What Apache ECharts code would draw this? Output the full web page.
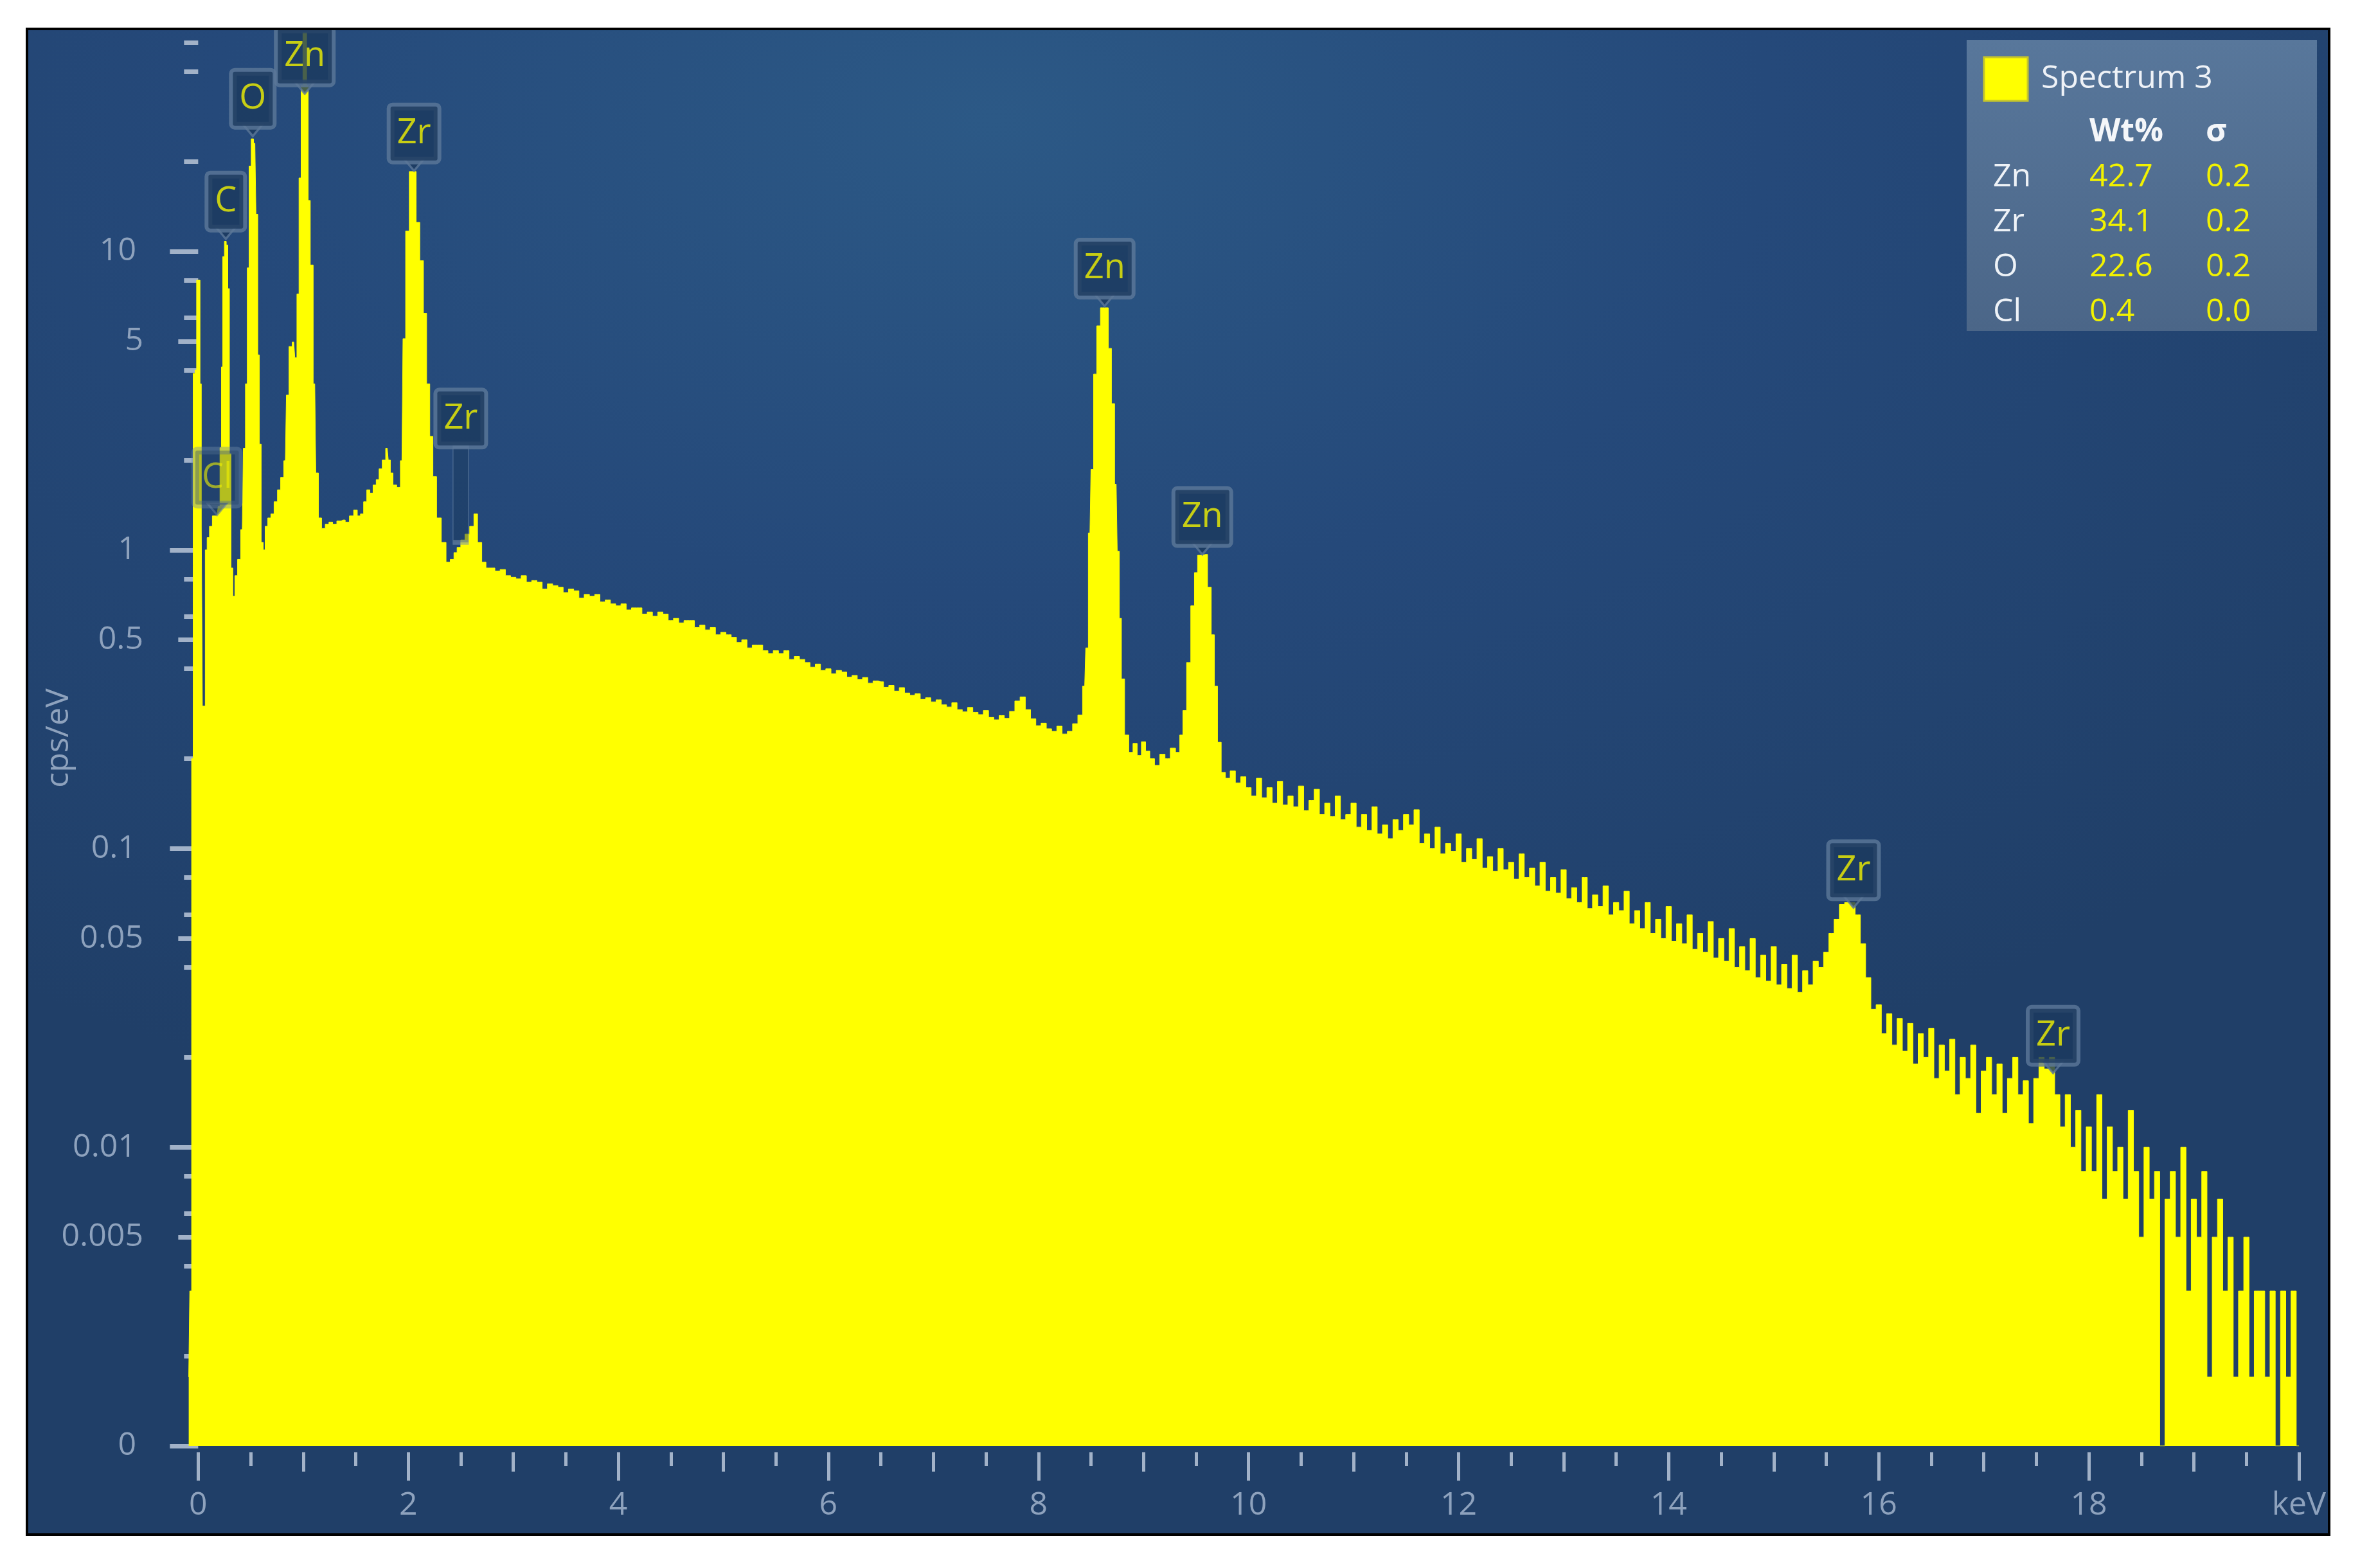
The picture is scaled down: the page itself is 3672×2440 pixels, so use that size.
<!DOCTYPE html>
<html>
<head>
<meta charset="utf-8">
<script src="https://cdn.jsdelivr.net/npm/echarts@6/dist/echarts.min.js"></script>
<style>
  html, body { margin: 0; padding: 0; background: #fff; }
  #chart {
    position: absolute; left: 40px; top: 43px;
    width: 3578px; height: 2339px;
    border: 4px solid #000;
    background: radial-gradient(ellipse 75% 70% at 42% 6%, #2c5986 0%, #25497a 45%, #203f68 100%);
  }
</style>
</head>
<body>
<div id="chart"></div>
<script>
// spectrum, [keV, cps/eV]; the "0" line of the log axis sits at 0.001
var lowBand = [
  [-0.09, 0.0017], [-0.07, 0.0033], [-0.055, 0.2], [-0.04, 3.9], [-0.02, 4.0], [-0.01, 8.0], [0.01, 8.0],
  [0.025, 3.6], [0.035, 1.2], [0.045, 0.3], [0.06, 0.3], [0.075, 1.0], [0.095, 1.1], [0.12, 1.2],
  [0.15, 1.3], [0.18, 1.3], [0.2, 1.4], [0.215, 2.2], [0.228, 4.1], [0.24, 9.6], [0.26, 10.8],
  [0.275, 10.5], [0.29, 7.5], [0.305, 2.1], [0.32, 0.87], [0.34, 0.7], [0.36, 0.82], [0.39, 0.93],
  [0.42, 1.17], [0.44, 2.19], [0.46, 3.6], [0.475, 8.8], [0.495, 19.3], [0.515, 23.8], [0.54, 23.0],
  [0.56, 13.3], [0.575, 4.5], [0.59, 2.26], [0.61, 1.06], [0.63, 1.0], [0.645, 1.2], [0.68, 1.28],
  [0.705, 1.32], [0.74, 1.45], [0.77, 1.59], [0.8, 1.75], [0.83, 1.99], [0.85, 3.3], [0.88, 4.8],
  [0.91, 4.97], [0.93, 4.4], [0.95, 7.2], [0.97, 17.6], [0.99, 36], [1.005, 54], [1.025, 54],
  [1.04, 36], [1.055, 14.8], [1.08, 9.0], [1.11, 3.6], [1.13, 1.81], [1.16, 1.28], [1.19, 1.18],
  [1.23, 1.22], [1.26, 1.24], [1.3, 1.22], [1.34, 1.25], [1.38, 1.26], [1.42, 1.24], [1.46, 1.3],
  [1.5, 1.36], [1.53, 1.3], [1.56, 1.32], [1.59, 1.45], [1.62, 1.59], [1.65, 1.55], [1.68, 1.65],
  [1.71, 1.72], [1.735, 1.87], [1.77, 2.0], [1.8, 2.19], [1.82, 2.0], [1.84, 1.81], [1.87, 1.65],
  [1.91, 1.62], [1.94, 1.99], [1.96, 5.1], [1.99, 11.7], [2.03, 18.5], [2.06, 18.5], [2.09, 12.5],
  [2.13, 9.3], [2.16, 6.2], [2.19, 3.6], [2.22, 2.4], [2.25, 1.76], [2.29, 1.28], [2.34, 1.06],
  [2.38, 0.91], [2.42, 0.93], [2.45, 0.98], [2.48, 1.02], [2.52, 1.08], [2.56, 1.13], [2.61, 1.2],
  [2.64, 1.32], [2.68, 1.06], [2.72, 0.91], [2.76, 0.87]
];

var midBand = [
  [2.8, 0.87], [2.85, 0.85], [2.9, 0.86], [2.95, 0.82], [3.0, 0.81], [3.05, 0.8], [3.1, 0.82],
  [3.15, 0.78], [3.2, 0.79], [3.25, 0.78], [3.3, 0.74], [3.35, 0.77], [3.4, 0.76], [3.45, 0.75],
  [3.5, 0.72], [3.55, 0.74], [3.6, 0.73], [3.65, 0.69], [3.7, 0.71], [3.75, 0.7], [3.8, 0.71],
  [3.85, 0.67], [3.9, 0.68], [3.95, 0.66], [4.0, 0.65], [4.05, 0.66], [4.1, 0.63], [4.15, 0.64],
  [4.2, 0.64], [4.25, 0.61], [4.3, 0.62], [4.35, 0.6], [4.4, 0.62], [4.45, 0.61], [4.5, 0.58],
  [4.55, 0.59], [4.6, 0.57], [4.65, 0.58], [4.7, 0.58], [4.75, 0.55], [4.8, 0.56], [4.85, 0.54],
  [4.9, 0.55], [4.95, 0.52], [5.0, 0.53], [5.05, 0.52], [5.1, 0.51], [5.15, 0.49], [5.2, 0.5],
  [5.25, 0.47], [5.3, 0.48], [5.35, 0.48], [5.4, 0.46], [5.45, 0.45], [5.5, 0.46], [5.55, 0.45],
  [5.6, 0.46], [5.65, 0.43], [5.7, 0.44], [5.75, 0.43], [5.8, 0.42], [5.85, 0.405], [5.9, 0.415],
  [5.95, 0.395], [6.0, 0.4], [6.05, 0.385], [6.1, 0.395], [6.15, 0.39], [6.2, 0.375], [6.25, 0.38],
  [6.3, 0.368], [6.35, 0.374], [6.4, 0.358], [6.45, 0.364], [6.5, 0.362], [6.55, 0.347], [6.6, 0.352],
  [6.65, 0.337], [6.7, 0.346], [6.75, 0.332], [6.8, 0.326], [6.85, 0.33], [6.9, 0.316], [6.95, 0.32],
  [7.0, 0.31], [7.05, 0.315], [7.1, 0.303], [7.15, 0.298], [7.2, 0.308], [7.25, 0.292], [7.3, 0.287],
  [7.35, 0.297], [7.4, 0.286], [7.45, 0.281], [7.5, 0.29], [7.55, 0.275], [7.6, 0.27], [7.65, 0.279],
  [7.7, 0.273], [7.75, 0.288], [7.8, 0.312], [7.85, 0.322], [7.9, 0.292], [7.95, 0.272], [8.0, 0.258],
  [8.05, 0.263], [8.1, 0.252], [8.15, 0.247], [8.2, 0.257], [8.25, 0.242], [8.3, 0.247], [8.35, 0.262],
  [8.4, 0.28], [8.44, 0.35], [8.46, 0.47], [8.49, 1.14], [8.51, 1.86], [8.54, 3.88], [8.57, 5.63],
  [8.61, 6.47], [8.65, 6.47], [8.68, 4.73], [8.71, 3.09], [8.74, 1.66], [8.76, 0.99], [8.78, 0.59],
  [8.8, 0.37], [8.84, 0.24], [8.88, 0.21], [8.92, 0.225], [8.96, 0.205], [9.0, 0.228], [9.04, 0.212],
  [9.08, 0.2], [9.13, 0.19], [9.18, 0.207], [9.23, 0.2], [9.28, 0.217], [9.33, 0.21], [9.36, 0.24],
  [9.39, 0.29], [9.43, 0.42], [9.47, 0.65], [9.5, 0.84], [9.53, 0.96], [9.59, 0.966], [9.63, 0.75],
  [9.66, 0.52], [9.69, 0.35], [9.72, 0.227], [9.76, 0.18], [9.8, 0.172], [9.85, 0.182], [9.9, 0.166],
  [9.95, 0.174], [10.0, 0.16]
];

var highBand = [
  [10.05, 0.15], [10.1, 0.172], [10.15, 0.148], [10.2, 0.16], [10.25, 0.142], [10.3, 0.168],
  [10.35, 0.14], [10.4, 0.15], [10.45, 0.138], [10.5, 0.162], [10.55, 0.134], [10.6, 0.145],
  [10.65, 0.158], [10.7, 0.13], [10.75, 0.142], [10.8, 0.128], [10.85, 0.15], [10.9, 0.125],
  [10.95, 0.13], [11.0, 0.142], [11.05, 0.118], [11.1, 0.13], [11.15, 0.115], [11.2, 0.138],
  [11.25, 0.112], [11.3, 0.12], [11.35, 0.108], [11.4, 0.125], [11.45, 0.115], [11.5, 0.13],
  [11.55, 0.12], [11.6, 0.135], [11.65, 0.104], [11.7, 0.112], [11.75, 0.1], [11.8, 0.118],
  [11.85, 0.096], [11.9, 0.104], [11.95, 0.098], [12.0, 0.112], [12.05, 0.09], [12.1, 0.1],
  [12.15, 0.092], [12.2, 0.108], [12.25, 0.086], [12.3, 0.094], [12.35, 0.084], [12.4, 0.1],
  [12.45, 0.085], [12.5, 0.09], [12.55, 0.079], [12.6, 0.096], [12.65, 0.08], [12.7, 0.086],
  [12.75, 0.075], [12.8, 0.09], [12.85, 0.072], [12.9, 0.08], [12.95, 0.071], [13.0, 0.085],
  [13.05, 0.068], [13.1, 0.074], [13.15, 0.066], [13.2, 0.08], [13.25, 0.063], [13.3, 0.07],
  [13.35, 0.064], [13.4, 0.075], [13.45, 0.06], [13.5, 0.066], [13.55, 0.062], [13.6, 0.072],
  [13.65, 0.056], [13.7, 0.062], [13.75, 0.054], [13.8, 0.066], [13.85, 0.052], [13.9, 0.058],
  [13.95, 0.05], [14.0, 0.064], [14.05, 0.049], [14.1, 0.056], [14.15, 0.048], [14.2, 0.06],
  [14.25, 0.046], [14.3, 0.052], [14.35, 0.045], [14.4, 0.057], [14.45, 0.043], [14.5, 0.05],
  [14.55, 0.042], [14.6, 0.054], [14.65, 0.04], [14.7, 0.047], [14.75, 0.039], [14.8, 0.05],
  [14.85, 0.037], [14.9, 0.044], [14.95, 0.036], [15.0, 0.047], [15.05, 0.035], [15.1, 0.041],
  [15.15, 0.034], [15.2, 0.044], [15.25, 0.033], [15.3, 0.039], [15.35, 0.035], [15.4, 0.042],
  [15.45, 0.04], [15.5, 0.045], [15.55, 0.052], [15.6, 0.058], [15.65, 0.065], [15.7, 0.066],
  [15.75, 0.066], [15.8, 0.06], [15.85, 0.048], [15.9, 0.037], [15.95, 0.029], [16.0, 0.03],
  [16.05, 0.024], [16.1, 0.028], [16.15, 0.022], [16.2, 0.027], [16.25, 0.021], [16.3, 0.026],
  [16.35, 0.019], [16.4, 0.024], [16.45, 0.02], [16.5, 0.025], [16.55, 0.017], [16.6, 0.022],
  [16.65, 0.018], [16.7, 0.023], [16.75, 0.015], [16.8, 0.02], [16.85, 0.017], [16.9, 0.022],
  [16.95, 0.013], [17.0, 0.018], [17.05, 0.02], [17.1, 0.015], [17.15, 0.019], [17.2, 0.013],
  [17.25, 0.017], [17.3, 0.02], [17.35, 0.015], [17.4, 0.0167], [17.45, 0.012], [17.5, 0.017],
  [17.55, 0.02], [17.6, 0.0183], [17.65, 0.02], [17.7, 0.015], [17.75, 0.0117], [17.8, 0.015],
  [17.85, 0.01], [17.9, 0.0133], [17.95, 0.0083], [18.0, 0.0117], [18.05, 0.0083], [18.1, 0.015],
  [18.15, 0.0067], [18.2, 0.0117], [18.25, 0.0083], [18.3, 0.01], [18.35, 0.0067], [18.4, 0.0133],
  [18.45, 0.0083], [18.5, 0.005], [18.55, 0.01], [18.6, 0.0067], [18.65, 0.0083], [18.7, 0.001],
  [18.75, 0.0067], [18.8, 0.0083], [18.85, 0.005], [18.9, 0.01], [18.95, 0.0033], [19.0, 0.0067],
  [19.05, 0.005], [19.1, 0.0083], [19.15, 0.0017], [19.2, 0.005], [19.25, 0.0067], [19.3, 0.0033],
  [19.35, 0.005], [19.4, 0.0017], [19.45, 0.0033], [19.5, 0.005], [19.55, 0.0017], [19.6, 0.0033],
  [19.65, 0.0033], [19.7, 0.0017], [19.75, 0.0033], [19.8, 0.001], [19.85, 0.0033], [19.9, 0.0017],
  [19.95, 0.0033], [20.0, 0.001]
];

// element markers
var peakNames = ['Cl', 'C', 'O', 'Zn', 'Zr', 'Zr', 'Zn', 'Zn', 'Zr', 'Zr'];
var peakKeV   = [0.18, 0.263, 0.52, 1.015, 2.055, 2.5, 8.63, 9.56, 15.76, 17.66];
var peakTip   = [1.31, 11, 24.3, 33.7, 18.6, 1.06, 6.56, 0.966, 0.0634, 0.0177];

// axis ticks
var yMajor = [0.001, 0.01, 0.1, 1, 10];
var yHalf = [0.005, 0.05, 0.5, 5];
var yMinor = [0.002, 0.004, 0.006, 0.008, 0.02, 0.04, 0.06, 0.08, 0.2, 0.4, 0.6, 0.8, 2, 4, 6, 8, 20, 40, 50];
var xMajor = [0, 2, 4, 6, 8, 10, 12, 14, 16, 18, 20];
var xOdd = [1, 3, 5, 7, 9, 11, 13, 15, 17, 19];
var xHalf = [0.5, 1.5, 2.5, 3.5, 4.5, 5.5, 6.5, 7.5, 8.5, 9.5, 10.5, 11.5, 12.5, 13.5, 14.5, 15.5, 16.5, 17.5, 18.5, 19.5];

// quant table
var legendElements = ['Zn', 'Zr', 'O', 'Cl'];
var legendWt = ['42.7', '34.1', '22.6', '0.4'];
var legendSigma = ['0.2', '0.2', '0.2', '0.0'];

var font = 'Open Sans';
var tickColor = '#a2b2c8';
var labelColor = '#8ea2bd';

function yFmt(v) {
  if (v <= 0.0011) return '0';
  return String(Number(v.toPrecision(3)));
}

function yAxisOf(ticks, len, labels, margin) {
  return {
    type: 'log', logBase: 10, min: 0.001, max: 55,
    position: 'left', offset: 25,
    axisLine: { show: false },
    splitLine: { show: false },
    axisTick: { show: true, customValues: ticks, length: len, lineStyle: { color: tickColor, width: 7 } },
    axisLabel: labels
      ? { show: true, customValues: labels, margin: margin, color: labelColor, fontSize: 50, fontFamily: font, formatter: yFmt }
      : { show: false }
  };
}

function xAxisOf(ticks, len, labels) {
  return {
    type: 'value', min: -0.1, max: 20,
    position: 'bottom', offset: 10,
    axisLine: { show: false },
    splitLine: { show: false },
    axisTick: { show: true, customValues: ticks, length: len, lineStyle: { color: tickColor, width: 5 } },
    axisLabel: labels
      ? { show: true, customValues: labels, margin: 58, color: labelColor, fontSize: 50, fontFamily: font,
          formatter: function (v) { return v >= 20 ? 'keV' : String(v); } }
      : { show: false }
  };
}

var markerData = peakNames.map(function (n, i) {
  var item = { name: n, value: [peakKeV[i], peakTip[i]] };
  if (i === 0) {
    item.itemStyle = { opacity: 0.6 };
    item.label = { backgroundColor: 'rgba(27,58,94,0.55)', borderColor: 'rgba(110,135,165,0.7)', color: '#f2f200' };
  }
  if (i === 5) {
    item.symbol = 'rect';
    item.symbolSize = [24, 150];
    item.symbolOffset = [0, -75];
    item.itemStyle = { color: 'rgba(27,58,94,0.6)', borderColor: 'rgba(120,145,175,0.7)', borderWidth: 3 };
  }
  return item;
});

var yAxes = [
  yAxisOf(yMajor, 44, yMajor, 55),
  yAxisOf(yHalf, 31, yHalf, 44),
  yAxisOf(yMinor, 22, null, 0)
];
yAxes[0].name = 'cps/eV';
yAxes[0].nameLocation = 'middle';
yAxes[0].nameRotate = 90;
yAxes[0].nameGap = 150;
yAxes[0].nameMoveOverlap = false;
yAxes[0].nameTextStyle = { color: labelColor, fontSize: 50, fontFamily: font };

var mychart = echarts.init(document.getElementById('chart'));
mychart.setOption({
  animation: false,
  grid: { left: 248, right: 44, top: 0, bottom: 136 },
  xAxis: [xAxisOf(xMajor, 44, xMajor), xAxisOf(xOdd, 30, null), xAxisOf(xHalf, 21, null)],
  yAxis: yAxes,
  graphic: [
    { type: 'rect', shape: { x: 3016, y: 15, width: 545, height: 453 },
      style: { fill: new echarts.graphic.LinearGradient(0, 0, 0, 1, [
        { offset: 0, color: '#58779b' }, { offset: 1, color: '#4b6688' }]) } },
    { type: 'rect', shape: { x: 3043, y: 42, width: 68, height: 68 },
      style: { fill: '#ffff00', stroke: '#c6c62a', lineWidth: 3 } },
    { type: 'text', x: 3132, y: 76,
      style: { text: 'Spectrum 3', fill: '#eef2f7', fontSize: 50, fontFamily: font, verticalAlign: 'middle' } },
    { type: 'text', x: 3207, y: 159,
      style: { text: 'Wt%', fill: '#f4f6f9', fontSize: 50, fontWeight: 'bold', fontFamily: font, verticalAlign: 'middle' } },
    { type: 'text', x: 3388, y: 159,
      style: { text: 'σ', fill: '#f4f6f9', fontSize: 50, fontWeight: 'bold', fontFamily: font, verticalAlign: 'middle' } }
  ].concat(legendElements.map(function (el, i) {
    return { type: 'group', children: [
      { type: 'text', x: 3057, y: 229 + i * 70,
        style: { text: el, fill: '#eef2f7', fontSize: 50, fontFamily: font, verticalAlign: 'middle' } },
      { type: 'text', x: 3207, y: 229 + i * 70,
        style: { text: legendWt[i], fill: '#f2f200', fontSize: 50, fontFamily: font, verticalAlign: 'middle' } },
      { type: 'text', x: 3388, y: 229 + i * 70,
        style: { text: legendSigma[i], fill: '#f2f200', fontSize: 50, fontFamily: font, verticalAlign: 'middle' } }
    ] };
  })),
  series: [
    {
      name: 'Spectrum 3',
      type: 'line',
      step: 'middle',
      xAxisIndex: 0,
      yAxisIndex: 0,
      showSymbol: false,
      lineStyle: { color: '#ffff00', width: 1 },
      areaStyle: { color: '#ffff00', opacity: 1, origin: 'start' },
      data: lowBand.concat(midBand, highBand),
      z: 2
    },
    {
      name: 'markers',
      type: 'scatter',
      xAxisIndex: 0,
      yAxisIndex: 0,
      symbol: 'triangle',
      symbolRotate: 180,
      symbolSize: [30, 18],
      symbolOffset: [0, -9],
      itemStyle: { color: '#1b3a5e', borderColor: '#5d7898', borderWidth: 3 },
      label: {
        show: true, position: 'top', distance: -3,
        formatter: '{b}',
        color: '#f2f200', fontSize: 54, fontFamily: font, lineHeight: 56,
        backgroundColor: '#1b3a5e', borderColor: '#5d7898', borderWidth: 6, borderRadius: 3,
        padding: [14, 10, 14, 10]
      },
      data: markerData,
      z: 5
    }
  ]
});
</script>
</body>
</html>
